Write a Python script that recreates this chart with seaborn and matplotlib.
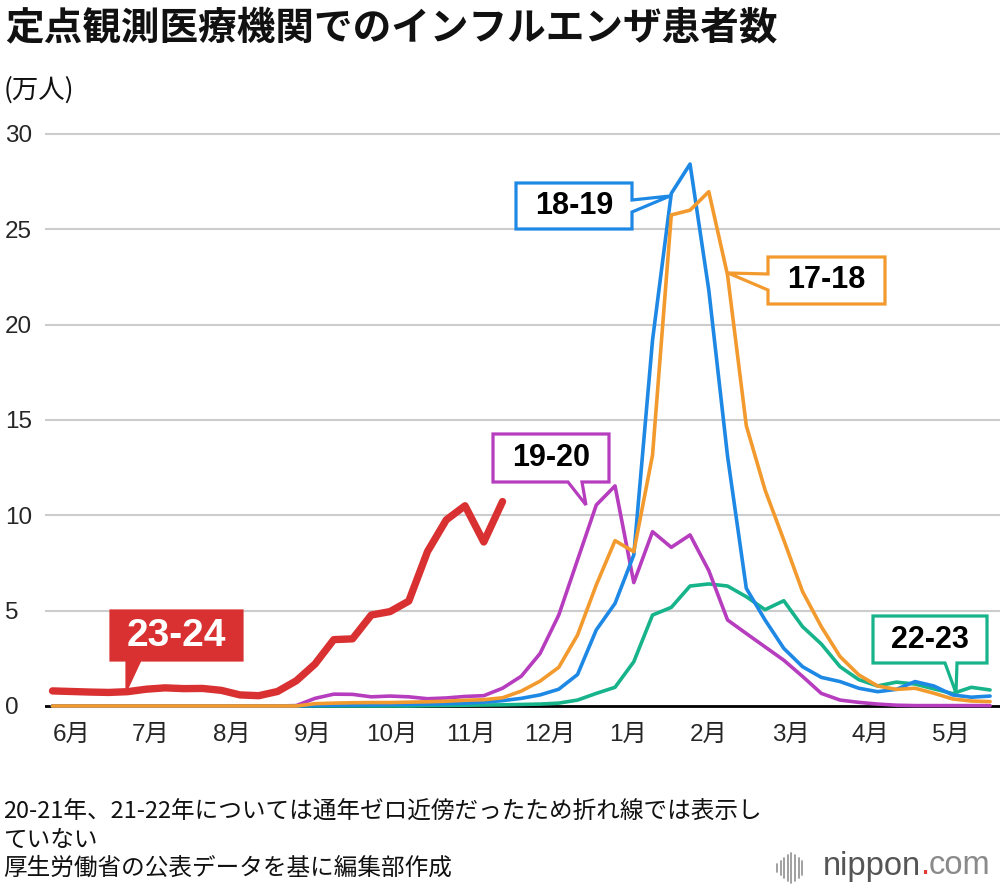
import matplotlib
matplotlib.use("Agg")
import matplotlib.pyplot as plt
import matplotlib.transforms as mtransforms
from matplotlib.patches import Polygon
from matplotlib.lines import Line2D
import seaborn as sns

# weekly patients (10k people), week 0 = early June
s2324 = [0.79, 0.76, 0.73, 0.71, 0.75, 0.88, 0.95, 0.91, 0.92, 0.82, 0.58, 0.54, 0.76,
         1.32, 2.2, 3.48, 3.52, 4.77, 4.95, 5.5, 8.1, 9.76, 10.5, 8.6, 10.72]
s1920 = [0] * 13 + [0.02, 0.40, 0.62, 0.61, 0.48, 0.52, 0.48, 0.38, 0.42, 0.5, 0.54, 0.93,
                    1.56, 2.75, 4.77, 7.66, 10.54, 11.54, 6.47, 9.14, 8.32, 8.97, 7.1, 4.51,
                    3.8, 3.1, 2.4, 1.55, 0.66, 0.31, 0.19, 0.1, 0.04, 0.02, 0.02, 0.02, 0.02, 0.02]
s1718 = [0] * 14 + [0.12, 0.15, 0.17, 0.18, 0.18, 0.2, 0.22, 0.25, 0.3, 0.33, 0.43, 0.78,
                    1.3, 2.03, 3.72, 6.35, 8.67, 8.09, 13.16, 25.75, 26.0, 26.97, 22.6, 14.7,
                    11.33, 8.7, 6.0, 4.16, 2.59, 1.63, 1.05, 0.87, 0.93, 0.67, 0.37, 0.26, 0.23]
s1819 = [0] * 14 + [0.03, 0.04, 0.05, 0.06, 0.07, 0.08, 0.1, 0.12, 0.15, 0.2, 0.28, 0.4,
                    0.58, 0.88, 1.65, 3.99, 5.38, 7.92, 19.19, 26.88, 28.42, 21.81, 13.1, 6.17,
                    4.51, 3.02, 2.06, 1.5, 1.28, 0.93, 0.75, 0.87, 1.28, 1.05, 0.58, 0.46, 0.52]
s2223 = [0] * 20 + [0.02, 0.03, 0.04, 0.05, 0.06, 0.08, 0.1, 0.15, 0.31, 0.66, 0.98, 2.32,
                    4.77, 5.17, 6.29, 6.4, 6.29, 5.73, 5.05, 5.52, 4.16, 3.25, 2.06, 1.38,
                    1.05, 1.25, 1.15, 0.9, 0.65, 0.98, 0.84]

month_labels = ["6月", "7月", "8月", "9月", "10月", "11月", "12月", "1月", "2月", "3月", "4月", "5月"]
month_pos = [1.04, 5.25, 9.57, 13.9, 18.1, 22.3, 26.5, 30.7, 35.0, 39.4, 43.6, 47.9]

RED, ORANGE, BLUE, PURPLE, GREEN = "#D93131", "#F29A2E", "#1E88E5", "#B53DBE", "#17B38B"

sns.set_theme(style="white")
plt.rcParams["font.family"] = ["Noto Sans CJK JP", "DejaVu Sans"]
NUM = ["Liberation Sans", "Noto Sans CJK JP"]

W, H = 1000, 892
fig = plt.figure(figsize=(10, 8.92), dpi=100)
pix = mtransforms.Affine2D().scale(1 / W, -1 / H).translate(0, 1) + fig.transFigure

ax = fig.add_axes([0.045, (H - 711.7) / H, 0.955, (711.7 - 130.1) / H])

ax.axhline(0, color="black", lw=2, zorder=1)
for vals, col, lw in [(s2223, GREEN, 2.6), (s1920, PURPLE, 2.6), (s1819, BLUE, 2.6),
                      (s1718, ORANGE, 2.6), (s2324, RED, 5.3)]:
    sns.lineplot(x=list(range(len(vals))), y=vals, color=col, lw=lw, ax=ax,
                 solid_joinstyle="round", solid_capstyle="round", zorder=3)

ax.set_xlim(-0.4, 50.53)
ax.set_ylim(-0.3, 30.2)
ax.grid(axis="y", color="#cccccc", lw=1.5)
ax.grid(axis="x", visible=False)
for s in ax.spines.values():
    s.set_visible(False)
ax.set_yticks([0, 5, 10, 15, 20, 25, 30])
ax.set_yticklabels([str(v) for v in [0, 5, 10, 15, 20, 25, 30]], family=NUM, fontsize=17.5)
for lbl in ax.get_yticklabels():
    lbl.set_ha("left")
ax.tick_params(axis="y", length=0, pad=29)
ax.set_xticks(month_pos)
ax.set_xticklabels(month_labels, family=NUM, fontsize=17.5)
ax.tick_params(axis="x", length=0, pad=9)
ax.set_xlabel("")
ax.set_ylabel("")
# gridline at 0 is replaced by the black baseline
ax.get_ygridlines()[0].set_visible(False)

# titles and notes
fig.text(5 / W, 1 - 28 / H, "定点観測医療機関でのインフルエンザ患者数", fontsize=27.8,
         fontweight="bold", va="center", ha="left", color="#111111")
fig.text(4 / W, 1 - 90 / H, "(万人)", fontsize=19, va="center", ha="left", color="#111111")
notes = ["20-21年、21-22年については通年ゼロ近傍だったため折れ線では表示し", "ていない",
         "厚生労働省の公表データを基に編集部作成"]
for k, t in enumerate(notes):
    fig.text(3 / W, 1 - (812 + 28 * k) / H, t, fontsize=17, va="center", ha="left",
             color="#111111")


def callout(poly, face, edge, text, cx, cy, tcol, size):
    fig.add_artist(Polygon(poly, closed=True, transform=pix, facecolor=face,
                           edgecolor=edge, lw=2.3, joinstyle="miter", zorder=5))
    fig.text(cx / W, 1 - cy / H, text, family=NUM, fontsize=size, fontweight="bold",
             color=tcol, ha="center", va="center", zorder=6)


callout([(111, 611), (242, 611), (242, 660), (140, 660), (127, 688), (127, 660), (111, 660)],
        RED, RED, "23-24", 176.5, 636, "white", 28)
callout([(493, 434), (609, 434), (609, 482), (582, 482), (586, 505), (568, 482), (493, 482)],
        "white", PURPLE, "19-20", 551, 458, "black", 22)
callout([(516, 183), (632, 183), (632, 200), (670, 196), (632, 212), (632, 229), (516, 229)],
        "white", BLUE, "18-19", 574, 206, "black", 22)
callout([(768, 257), (885, 257), (885, 304), (768, 304), (768, 290), (728, 273), (768, 274)],
        "white", ORANGE, "17-18", 826.5, 280.5, "black", 22)
callout([(873, 616), (987, 616), (987, 663), (957, 663), (956, 693), (945, 663), (873, 663)],
        "white", GREEN, "22-23", 930, 639.5, "black", 22)

# nippon.com mark
for k, hgt in enumerate([8, 14, 20, 26, 30, 26, 20, 14]):
    xx = 777 + 3.6 * k
    fig.add_artist(Line2D([xx, xx], [868 - hgt / 2, 868 + hgt / 2], transform=pix,
                          color="#9a9a9a", lw=1.3))
fig.text(921 / W, 1 - 866 / H, "nippon", family=NUM, fontsize=23.5, color="#555555",
         ha="right", va="center")
fig.text(921 / W, 1 - 866 / H, ".", family=NUM, fontsize=23.5, color="#E03C31",
         ha="left", va="center")
fig.text(929 / W, 1 - 866 / H, "com", family=NUM, fontsize=23.5, color="#8a8a8a",
         ha="left", va="center")

fig.savefig("out.png", dpi=100)
